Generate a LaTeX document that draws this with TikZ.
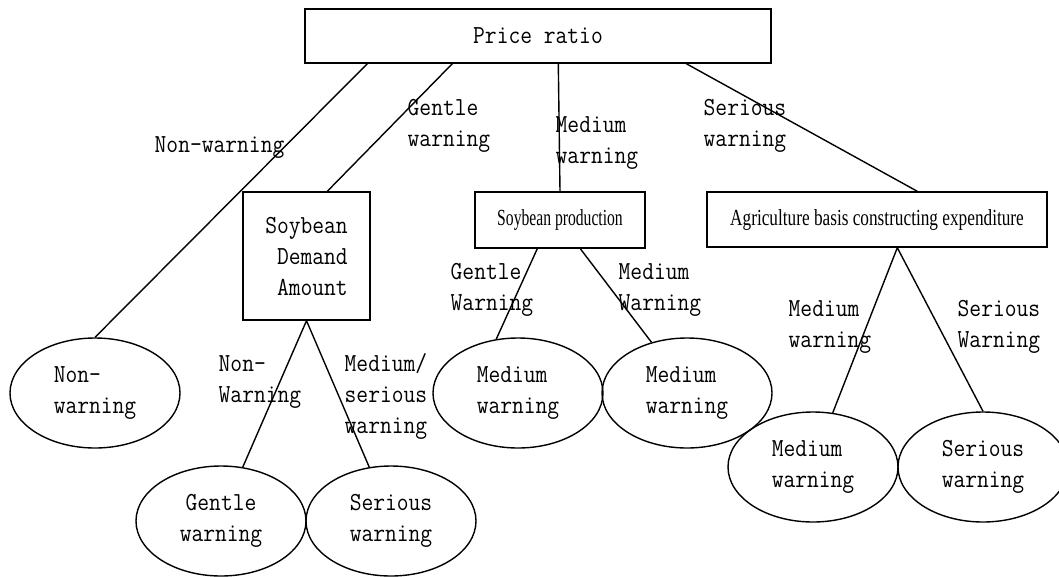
\documentclass[tikz,border=0pt]{standalone}
\usepackage{fontspec}
\setmainfont{Latin Modern Mono}[FakeStretch=0.88]
\newfontfamily\narrowfont{Liberation Serif}[FakeStretch=0.68]
\newfontfamily\widerfont{Liberation Serif}[FakeStretch=0.75]
\usetikzlibrary{shapes.geometric}

\begin{document}
\begin{tikzpicture}[x=1pt,y=-1pt,line width=1.4pt,
  every node/.style={font=\fontsize{26}{31}\selectfont,inner sep=0pt},
  box/.style={draw,rectangle,align=left},
  leaf/.style={draw,ellipse,minimum width=170pt,minimum height=110pt,align=left},
  lbl/.style={anchor=base west,align=left}]
  \useasboundingbox (0,0) rectangle (1059,576);
  % boxes
  \node[box,minimum width=466pt,minimum height=54pt] (price) at (538,36) {Price ratio};
  \node[box,minimum width=127pt,minimum height=128pt] (demand) at (306.5,256) {Soybean\\\hphantom{x}Demand\\\hphantom{x}Amount};
  \node[box,minimum width=170pt,minimum height=56pt,font=\narrowfont\fontsize{23}{27}\selectfont] (prod) at (560,220) {Soybean production};
  \node[box,minimum width=340pt,minimum height=55pt,font=\widerfont\fontsize{23}{27}\selectfont] (agri) at (877,219.5) {Agriculture basis constructing expenditure};
  % ellipses
  \node[leaf] (nonwarn) at (95,393) {Non-\\warning};
  \node[leaf,align=center] (gentle) at (221,521) {Gentle\\warning};
  \node[leaf] (serA) at (391,521) {Serious\\warning};
  \node[leaf] (medA) at (518,393) {Medium\\warning};
  \node[leaf] (medB) at (687,393) {Medium\\warning};
  \node[leaf] (medC) at (813,467) {Medium\\warning};
  \node[leaf] (serB) at (983,467) {Serious\\warning};
  % branches
  \draw ([xshift=63pt]price.south west) -- (nonwarn.north);
  \draw ([xshift=148pt]price.south west) -- ([xshift=85pt]demand.north west);
  \draw ([xshift=254pt]price.south west) -- (prod.north);
  \draw ([xshift=382pt]price.south west) -- ([xshift=211pt]agri.north west);
  \draw (gentle.68) -- (demand.south) -- (serA.112);
  \draw ([xshift=63pt]prod.south west) -- (medA.112);
  \draw ([xshift=106pt]prod.south west) -- (medB.125);
  \draw (medC.70) -- ([xshift=191pt]agri.south west) -- (serB.north);
  % branch labels (base = last line)
  \node[lbl] (lNon) at (154,152) {Non-warning};
  \node[lbl] (lGen) at (407,146) {Gentle\\warning};
  \node[lbl] (lMed) at (555,163) {Medium\\warning};
  \node[lbl] (lSer) at (703,146) {Serious\\warning};
  \node[lbl] (lDnon) at (218,402) {Non-\\Warning};
  \node[lbl] (lDmed) at (344,433) {Medium/\\serious\\warning};
  \node[lbl] (lPgen) at (450,310) {Gentle\\Warning};
  \node[lbl] (lPmed) at (618,310) {Medium\\Warning};
  \node[lbl] (lAmed) at (788,347) {Medium\\warning};
  \node[lbl] (lAser) at (957,347) {Serious\\Warning};
\end{tikzpicture}
\end{document}
